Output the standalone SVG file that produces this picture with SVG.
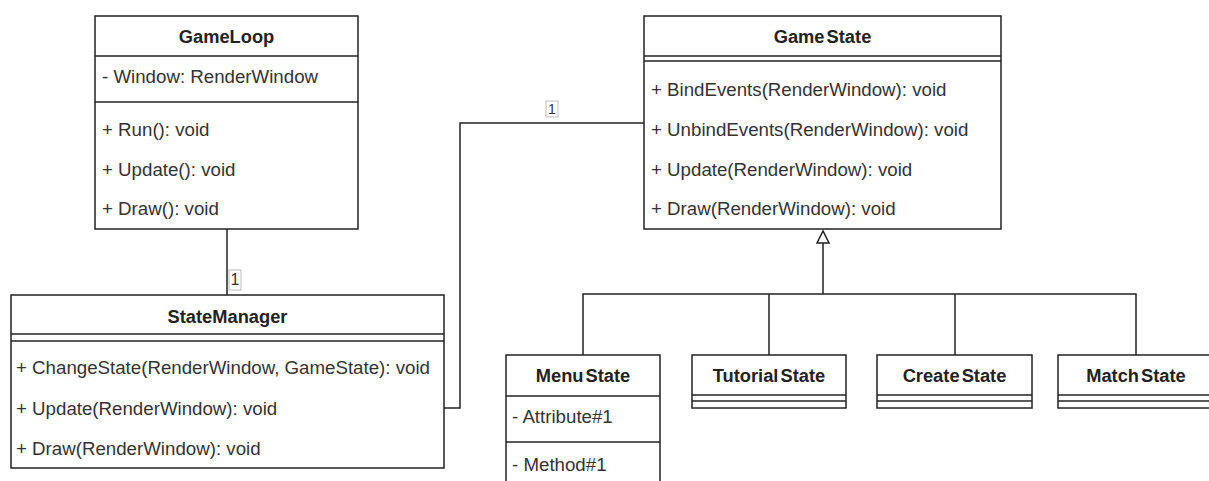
<svg xmlns="http://www.w3.org/2000/svg" width="1209" height="481" viewBox="0 0 1209 481">
<style>
  .box{fill:#fff;stroke:#222;stroke-width:1.5}
  .ln{stroke:#222;stroke-width:1.5;fill:none}
  .t{font-family:"Liberation Sans",Arial,sans-serif;font-size:18.7px;fill:#333}
  .h{font-family:"Liberation Sans",Arial,sans-serif;font-size:18.3px;font-weight:bold;fill:#222;text-anchor:middle}
  .hs{word-spacing:-3px}
  .lbl{fill:#fff;stroke:#bbb;stroke-width:1}
  .lt{font-family:"Liberation Sans",Arial,sans-serif;fill:#333;text-anchor:middle}
</style>
<rect width="1209" height="481" fill="#fff"/>
<g id="connectors">
  <line class="ln" x1="227" y1="229" x2="227" y2="295"/>
  <rect class="lbl" x="229" y="270" width="12" height="20"/>
  <text class="lt" x="235" y="285" font-size="16">1</text>
  <polyline class="ln" points="444,408 460,408 460,123 644,123"/>
  <rect class="lbl" x="546" y="101" width="12" height="16"/>
  <text class="lt" x="552" y="113.5" font-size="14">1</text>
  <line class="ln" x1="823" y1="243" x2="823" y2="294"/>
  <polygon points="823,231 817,243 829,243" fill="#fff" stroke="#222" stroke-width="1.5"/>
  <polyline class="ln" points="583,355 583,294 1136,294 1136,355"/>
  <line class="ln" x1="769" y1="294" x2="769" y2="355"/>
  <line class="ln" x1="955" y1="294" x2="955" y2="355"/>
</g>
<g id="GameLoop">
  <rect class="box" x="95" y="16" width="263" height="213"/>
  <line class="ln" x1="95" y1="56" x2="358" y2="56"/>
  <line class="ln" x1="95" y1="102" x2="358" y2="102"/>
  <text class="h" x="226.5" y="43">GameLoop</text>
  <text class="t" x="102" y="83">- Window: RenderWindow</text>
  <text class="t" x="102" y="136">+ Run(): void</text>
  <text class="t" x="102" y="176">+ Update(): void</text>
  <text class="t" x="102" y="215">+ Draw(): void</text>
</g>
<g id="StateManager">
  <rect class="box" x="11" y="295" width="433" height="173"/>
  <line class="ln" x1="11" y1="334" x2="444" y2="334"/>
  <line class="ln" x1="11" y1="341" x2="444" y2="341"/>
  <text class="h" x="227.5" y="323">StateManager</text>
  <text class="t" x="16" y="374">+ ChangeState(RenderWindow, GameState): void</text>
  <text class="t" x="16" y="415">+ Update(RenderWindow): void</text>
  <text class="t" x="16" y="455">+ Draw(RenderWindow): void</text>
</g>
<g id="GameState">
  <rect class="box" x="644" y="16" width="357" height="213"/>
  <line class="ln" x1="644" y1="56" x2="1001" y2="56"/>
  <line class="ln" x1="644" y1="61" x2="1001" y2="61"/>
  <text class="h hs" x="822.5" y="43">Game State</text>
  <text class="t" x="651" y="96">+ BindEvents(RenderWindow): void</text>
  <text class="t" x="651" y="136">+ UnbindEvents(RenderWindow): void</text>
  <text class="t" x="651" y="176">+ Update(RenderWindow): void</text>
  <text class="t" x="651" y="215">+ Draw(RenderWindow): void</text>
</g>
<g id="MenuState">
  <rect class="box" x="506" y="355" width="154" height="140"/>
  <line class="ln" x1="506" y1="396" x2="660" y2="396"/>
  <line class="ln" x1="506" y1="442" x2="660" y2="442"/>
  <text class="h hs" x="583" y="382">Menu State</text>
  <text class="t" x="512" y="423">- Attribute#1</text>
  <text class="t" x="512" y="471">- Method#1</text>
</g>
<g id="TutorialState">
  <rect class="box" x="692" y="355" width="154" height="53"/>
  <line class="ln" x1="692" y1="395" x2="846" y2="395"/>
  <line class="ln" x1="692" y1="401" x2="846" y2="401"/>
  <text class="h hs" x="769" y="382">Tutorial State</text>
</g>
<g id="CreateState">
  <rect class="box" x="877" y="355" width="155" height="53"/>
  <line class="ln" x1="877" y1="395" x2="1032" y2="395"/>
  <line class="ln" x1="877" y1="401" x2="1032" y2="401"/>
  <text class="h hs" x="954.5" y="382">Create State</text>
</g>
<g id="MatchState">
  <rect class="box" x="1058" y="355" width="156" height="53"/>
  <line class="ln" x1="1058" y1="395" x2="1214" y2="395"/>
  <line class="ln" x1="1058" y1="401" x2="1214" y2="401"/>
  <text class="h hs" x="1136" y="382">Match State</text>
</g>
</svg>
